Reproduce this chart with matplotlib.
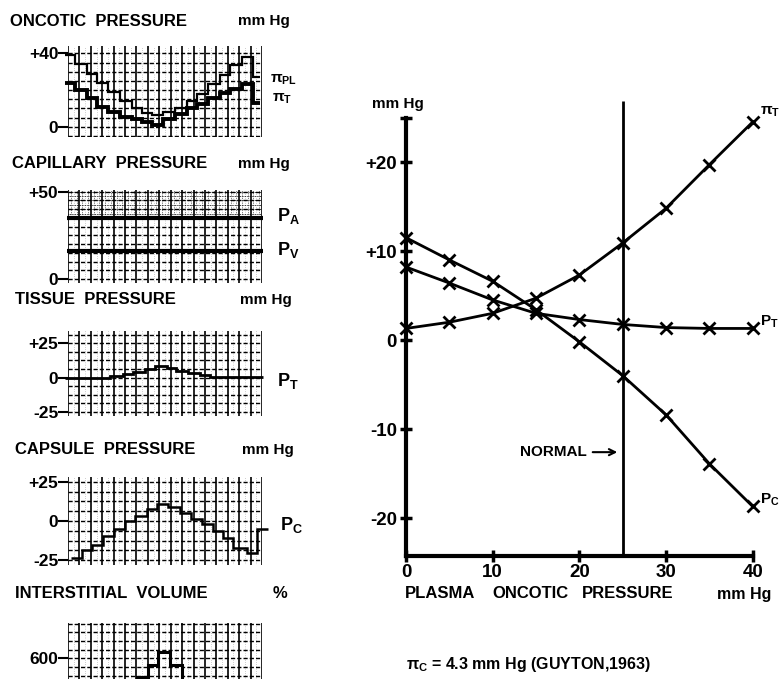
import matplotlib.pyplot as plt
import numpy as np

plt.rcParams['font.family'] = ['Liberation Sans', 'DejaVu Sans']
plt.rcParams['font.weight'] = 'bold'
plt.rcParams['mathtext.fontset'] = 'custom'
plt.rcParams['mathtext.rm'] = 'Liberation Sans:bold'
plt.rcParams['mathtext.it'] = 'Liberation Sans:bold'
plt.rcParams['mathtext.bf'] = 'Liberation Sans:bold'

# right panel: values vs plasma oncotic pressure (mm Hg)
plasma = [0, 5, 10, 15, 20, 25, 30, 35, 40]
pi_t = [1.3, 2.0, 3.0, 4.7, 7.3, 10.9, 14.8, 19.7, 24.5]
p_t = [8.2, 6.4, 4.5, 3.0, 2.3, 1.75, 1.4, 1.3, 1.3]
p_c = [11.5, 9.0, 6.6, 3.4, -0.2, -4.0, -8.4, -13.9, -18.7]
normal = 25

# left strip charts (x in chart columns)
onc_edges = [-0.26, 0.61, 1.64, 2.52, 3.54, 4.56, 5.59, 6.46, 7.34, 8.36,
             9.39, 10.41, 11.29, 12.31, 13.33, 14.21, 15.24, 16.25, 16.84]
onc_pl = [39, 34, 29, 24, 19, 14, 10, 7.5, 6.5, 8, 10, 14, 18, 23.5, 28, 33.5, 38, 27]
onc_t = [24, 20, 15.5, 11, 8, 5.5, 4, 2.5, 1, 4, 7, 10, 12.5, 15.5, 18.5, 20.5, 23.5, 13]

cap_pa = 35
cap_pv = 16

tis_edges = [-0.3, 3.7, 4.85, 5.7, 6.75, 7.6, 8.65, 9.5, 10.55, 11.6, 12.45, 17.1]
tis_pt = [0, 1.2, 2.4, 4, 6, 8.3, 6.7, 4.8, 3.1, 1.7, 0.5]

caps_edges = [0.3, 1.2, 2.1, 3.1, 4.0, 5.0, 5.9, 6.9, 7.8, 8.8, 9.8, 10.8,
              11.7, 12.7, 13.6, 14.5, 15.7, 16.6, 17.5]
caps_pc = [-23.9, -18.5, -15.2, -9.8, -5.4, 0, 3.3, 7.6, 10.9, 8.7, 5.4, 1.1,
           -2.2, -6.5, -10.9, -17, -20.6, -5.4]

vol_edges = [6.03, 7.04, 7.92, 8.95, 9.97]
vol = [494, 560, 635, 560]

W, H = 780, 679
fig = plt.figure(figsize=(W / 100, H / 100), dpi=100)


def box(x0, y0, x1, y1):
    return [x0 / W, 1 - y1 / H, (x1 - x0) / W, (y1 - y0) / H]


def ftext(x, y, s, size=12, **kw):
    fig.text(x / W, 1 - y / H, s, fontsize=size, va='center', ha='left', **kw)


def strip(y0, y1, ylim, step, ticks, labels):
    ax = fig.add_axes(box(68, y0, 262, y1))
    ax.set_xlim(0, 17)
    ax.set_ylim(*ylim)
    for s in ax.spines.values():
        s.set_visible(False)
    ax.set_xticks([])
    ax.set_yticks(ticks, labels)
    ax.tick_params(axis='y', length=7, width=1.5, pad=0, labelsize=12.5)
    for c in range(18):
        ax.axvline(c, color='k', lw=1.2, zorder=1)
        ax.axvline(c + 0.5, color='k', lw=0.4, ls=(0, (1, 3)), alpha=0.6, zorder=1)
    for v in np.arange(np.ceil(ylim[0] / step) * step, ylim[1] + 1e-6, step):
        ax.axhline(v, color='k', lw=1.0, ls=(0, (3, 1.5)), zorder=1)
    return ax


# oncotic pressure
ax1 = strip(46, 137, (-5.6, 44), 5, [0, 40], ['0', '+40'])
ax1.stairs(onc_pl, onc_edges, baseline=None, color='k', lw=1.6, clip_on=False)
ax1.stairs(onc_t, onc_edges, baseline=None, color='k', lw=2.8, clip_on=False)
ftext(10, 21, 'ONCOTIC  PRESSURE')
ftext(238, 21, 'mm Hg', 11)
ftext(270, 80, r'$\pi_{PL}$', 11)
ftext(272, 99, r'$\pi_T$', 11)

# capillary pressure
ax2 = strip(190, 283, (-2.3, 51), 5, [0, 50], ['0', '+50'])
for v in np.arange(37.5, 51, 2.5):
    ax2.axhline(v, color='k', lw=0.6, ls=(0, (1, 1)), zorder=1)
for c in np.arange(0.25, 17, 0.5):
    ax2.plot([c, c], [37, 51], color='k', lw=0.5, ls=(0, (1, 1.5)), zorder=1)
ax2.hlines([cap_pa, cap_pv], -0.1, 17.1, color='k', lw=3, clip_on=False)
ftext(12, 164, 'CAPILLARY  PRESSURE')
ftext(238, 164, 'mm Hg', 11)
ftext(277, 216, r'P$_A$', 13)
ftext(277, 250, r'P$_V$', 13)

# tissue pressure
ax3 = strip(331, 416, (-28, 34), 6.25, [-25, 0, 25], ['-25', '0', '+25'])
ax3.stairs(tis_pt, tis_edges, baseline=None, color='k', lw=2.0, clip_on=False)
ftext(15, 300, 'TISSUE  PRESSURE')
ftext(240, 300, 'mm Hg', 11)
ftext(277, 381, r'P$_T$', 13)

# capsule pressure
ax4 = strip(477, 565, (-28.2, 28.2), 6.25, [-25, 0, 25], ['-25', '0', '+25'])
ax4.stairs(caps_pc, caps_edges, baseline=None, color='k', lw=1.8, clip_on=False)
ftext(15, 450, 'CAPSULE  PRESSURE')
ftext(242, 450, 'mm Hg', 11)
ftext(280, 525, r'P$_C$', 13)

# interstitial volume
ax5 = strip(623, 700, (360, 803), 50, [600], ['600'])
ax5.stairs(vol, vol_edges, baseline=300, color='k', lw=2.2)
ftext(15, 594, 'INTERSTITIAL  VOLUME')
ftext(273, 594, '%', 12)

# main plot
ax = fig.add_axes(box(406, 117.5, 752.7, 556.3))
ax.set_xlim(0, 40)
ax.set_ylim(-24.3, 25)
for s in ['top', 'right']:
    ax.spines[s].set_visible(False)
for s in ['left', 'bottom']:
    ax.spines[s].set_linewidth(3)
ax.set_yticks([-20, -10, 0, 10, 20, 25], ['-20', '-10', '0', '+10', '+20', ''])
ax.set_xticks([0, 10, 20, 30, 40])
ax.tick_params(direction='inout', length=9, width=2.5, labelsize=13.5)
ax.tick_params(axis='y', pad=2)
ax.tick_params(axis='x', pad=1)

for ys in [pi_t, p_t, p_c]:
    ax.plot(plasma, ys, color='k', lw=2, marker='x', ms=8, mew=2, clip_on=False)
ax.vlines(normal, -24.3, 26.8, color='k', lw=2, clip_on=False)
ax.annotate('NORMAL', xy=(normal - 0.3, -12.6), xytext=(20.9, -12.6),
            ha='right', va='center', fontsize=11,
            arrowprops=dict(arrowstyle='->', lw=1.5, color='k'))

ax.text(40.8, 25.6, r'$\pi_T$', fontsize=11, va='center', clip_on=False)
ax.text(40.8, 2.1, r'P$_T$', fontsize=11, va='center', clip_on=False)
ax.text(40.8, -18.0, r'P$_C$', fontsize=11, va='center', clip_on=False)

ftext(372, 104, 'mm Hg', 11)
ftext(405, 594, 'PLASMA')
ftext(492, 594, 'ONCOTIC')
ftext(582, 594, 'PRESSURE')
ftext(717, 594, 'mm Hg', 11.5)
ftext(406, 665, r'$\pi_C$ = 4.3 mm Hg (GUYTON,1963)', 11.5)

fig.savefig('out.png', dpi=100)
